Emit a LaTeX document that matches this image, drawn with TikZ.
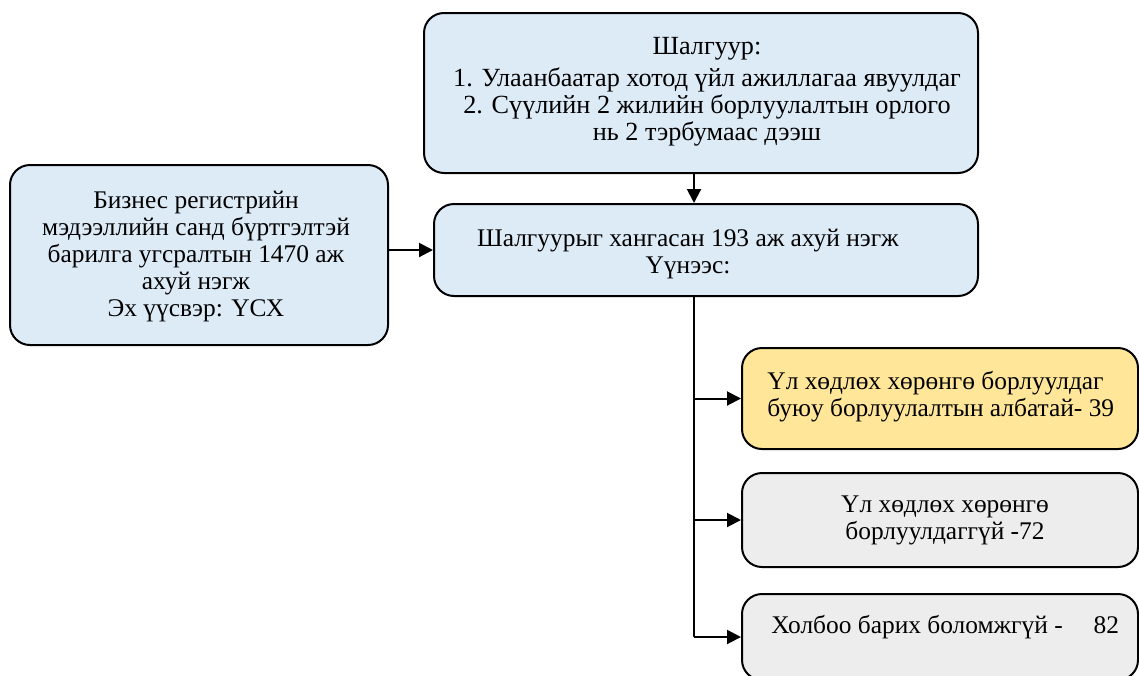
\documentclass[tikz,border=0pt]{standalone}
\usepackage{fontspec}
\setmainfont{Liberation Serif}
\usetikzlibrary{arrows.meta}
\definecolor{boxblue}{HTML}{DDEBF7}
\definecolor{boxyellow}{HTML}{FFE699}
\definecolor{boxgray}{HTML}{EDEDED}

\begin{document}
\begin{tikzpicture}[x=0.5pt, y=-0.5pt,
  font=\fontsize{12.7}{13.5}\selectfont,
  box/.style={draw=black, line width=1pt, rounded corners=10pt, inner sep=0pt},
  txt/.style={align=center, inner sep=0pt},
  >={Triangle[length=7pt,width=7pt]}]

% page size
\useasboundingbox (0,0) rectangle (1139,675);

% boxes
\node[box, fill=boxblue, minimum width=277pt, minimum height=80pt] (crit) at (701,93) {};
\node[box, fill=boxblue, minimum width=272pt, minimum height=46pt] (pass) at (706,250) {};
\node[box, fill=boxblue, minimum width=189pt, minimum height=90pt] (reg) at (199,255) {};
\node[box, fill=boxyellow, minimum width=198pt, minimum height=50.5pt] (sell) at (940,398.5) {};
\node[box, fill=boxgray, minimum width=198pt, minimum height=47pt] (nosell) at (940,520) {};
\node[box, fill=boxgray, minimum width=198pt, minimum height=43pt] (nocontact) at (940,637) {};

% texts
\node[txt, font=\fontsize{13.1}{13.5}\selectfont] (crittext) at (707,92) {Шалгуур:\\[2.5pt]
  1. Улаанбаатар хотод үйл ажиллагаа явуулдаг\\
  2. Сүүлийн 2 жилийн борлуулалтын орлого\\
  нь 2 тэрбумаас дээш};
\node[txt] (passtext) at (688,254) {Шалгуурыг хангасан 193 аж ахуй нэгж\\ Үүнээс:};
\node[txt] (regtext) at (196,257) {Бизнес регистрийн\\ мэдээллийн санд бүртгэлтэй\\
  барилга угсралтын 1470 аж\\ ахуй нэгж\\ Эх үүсвэр: ҮСХ};
\node[txt, align=left, anchor=west] (selltext) at (767,397) {Үл хөдлөх хөрөнгө борлуулдаг\\
  буюу борлуулалтын албатай- 39};
\node[txt] (noselltext) at (945,520) {Үл хөдлөх хөрөнгө\\ борлуулдаггүй -72};
\node[txt, anchor=west] (nocontacttext) at (771,627) {Холбоо барих боломжгүй -\hspace{15.5pt}82};

% connectors
\coordinate (trunk) at (694,0);
\draw[line width=1pt, ->] (crit.south -| trunk) -- (pass.north -| trunk);
\draw[line width=1pt, ->] (reg.east |- pass.west) -- (pass.west);
\draw[line width=1pt] (pass.south -| trunk) -- (trunk |- nocontact.west);
\draw[line width=1pt, ->] (trunk |- sell.west) -- (sell.west);
\draw[line width=1pt, ->] (trunk |- nosell.west) -- (nosell.west);
\draw[line width=1pt, ->] (trunk |- nocontact.west) -- (nocontact.west);

\end{tikzpicture}
\end{document}
